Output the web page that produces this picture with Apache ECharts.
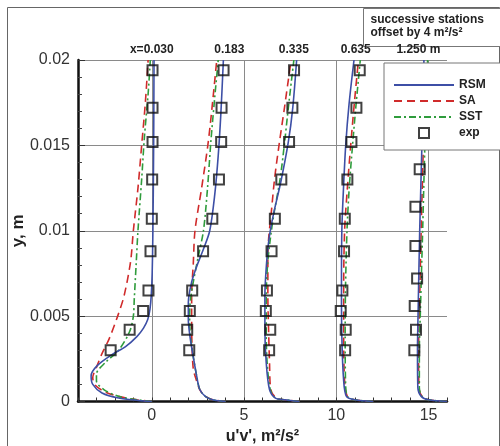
<!DOCTYPE html>
<html><head><meta charset="utf-8">
<script src="https://cdn.jsdelivr.net/npm/echarts@6/dist/echarts.min.js"></script>
<style>html,body{margin:0;padding:0;background:#fff}#c{width:500px;height:446px}</style>
</head><body><div id="c"></div>
<script>
// ---- data (values as plotted; successive stations offset by 4 m^2/s^2) ----
const stationLabels = ['x=0.030', '0.183', '0.335', '0.635', '1.250 m'];
const xTickValues = [0, 5, 10, 15];
const legendNames = ['RSM', 'SA', 'SST', 'exp'];

const rsm1 = [[0,0],[-0.72,0.00006],[-1.8,0.0002],[-2.7,0.0005],[-3.2,0.001],[-3.29,0.0015],[-2.96,0.0021],[-2.16,0.00275],[-1.44,0.0032],[-0.81,0.0038],[-0.45,0.0043],[-0.22,0.0048],[-0.1,0.0054],[-0.03,0.0062],[0.02,0.0075],[0.06,0.01],[0.1,0.015],[0.12,0.02]];
const sa1 = [[0,0],[-0.8,0.0001],[-1.8,0.0003],[-2.6,0.0006],[-3.1,0.001],[-3.2,0.0014],[-3.0,0.002],[-2.7,0.0028],[-2.3,0.0037],[-1.85,0.005],[-1.5,0.0062],[-1.15,0.0082],[-1.0,0.01],[-0.75,0.0125],[-0.55,0.015],[-0.35,0.0175],[-0.2,0.02]];
const sst1 = [[0,0],[-0.8,0.0001],[-1.8,0.0003],[-2.6,0.0007],[-3.0,0.0012],[-3.0,0.0016],[-2.5,0.0023],[-1.8,0.003],[-1.2,0.0041],[-1.0,0.005],[-0.95,0.006],[-0.85,0.008],[-0.75,0.01],[-0.55,0.013],[-0.4,0.0155],[-0.2,0.018],[-0.08,0.02]];
const exp1 = [[0.04,0.0194],[0.04,0.0172],[0.04,0.0152],[0.02,0.013],[0.0,0.0107],[-0.07,0.0088],[-0.18,0.0065],[-0.47,0.0053],[-1.2,0.0042],[-2.23,0.003]];

const rsm2 = [[4,0],[3.3,0.0001],[2.9,0.0003],[2.6,0.0007],[2.43,0.0015],[2.25,0.0026],[2.07,0.0038],[1.98,0.0048],[1.98,0.0058],[2.16,0.007],[2.43,0.0079],[2.79,0.0089],[3.14,0.01],[3.41,0.0121],[3.6,0.0144],[3.74,0.0168],[3.88,0.02]];
const sa2 = [[4,0],[3.3,0.0001],[2.9,0.0003],[2.6,0.0007],[2.4,0.0013],[2.25,0.0019],[2.18,0.0032],[2.16,0.0046],[2.16,0.0062],[2.25,0.0081],[2.34,0.01],[2.7,0.0125],[3.06,0.0152],[3.32,0.0178],[3.52,0.02]];
const sst2 = [[4,0],[3.3,0.0001],[2.9,0.0003],[2.6,0.0007],[2.43,0.0015],[2.25,0.0026],[2.1,0.0038],[2.05,0.0048],[2.08,0.0058],[2.25,0.007],[2.52,0.0085],[2.8,0.01],[3.02,0.0125],[3.2,0.0152],[3.41,0.0178],[3.6,0.02]];
const exp2 = [[3.89,0.0194],[3.78,0.0172],[3.76,0.0152],[3.64,0.013],[3.28,0.0107],[2.78,0.0088],[2.19,0.0065],[2.06,0.0053],[1.92,0.0042],[2.03,0.003]];

const rsm3 = [[8,0],[7.2,0.0001],[6.7,0.0002],[6.38,0.0007],[6.2,0.0023],[6.13,0.0042],[6.13,0.0062],[6.22,0.0081],[6.35,0.0095],[6.6,0.011],[7.0,0.0129],[7.4,0.0152],[7.64,0.0172],[7.85,0.02]];
const sa3 = [[8,0],[7.2,0.0001],[6.75,0.0002],[6.45,0.0007],[6.38,0.0023],[6.33,0.0042],[6.29,0.0062],[6.29,0.0081],[6.33,0.0095],[6.47,0.011],[6.65,0.013],[6.92,0.0152],[7.19,0.0172],[7.55,0.02]];
const sst3 = [[8,0],[7.2,0.0001],[6.7,0.0002],[6.42,0.0007],[6.25,0.0023],[6.2,0.0042],[6.2,0.0062],[6.28,0.0081],[6.42,0.0095],[6.62,0.011],[6.95,0.013],[7.2,0.0152],[7.4,0.0172],[7.7,0.02]];
const exp3 = [[7.71,0.0194],[7.62,0.0172],[7.44,0.0152],[7.02,0.013],[6.67,0.0107],[6.49,0.0088],[6.24,0.0065],[6.18,0.0053],[6.42,0.0042],[6.36,0.003]];

const rsm4 = [[12,0],[11.0,0.0001],[10.55,0.0003],[10.4,0.0012],[10.3,0.0038],[10.28,0.0067],[10.3,0.01],[10.39,0.0125],[10.51,0.015],[10.69,0.0174],[10.96,0.02]];
const sa4 = [[12,0],[11.0,0.0001],[10.6,0.0003],[10.45,0.0012],[10.4,0.0038],[10.4,0.0067],[10.45,0.01],[10.6,0.0125],[10.78,0.015],[10.98,0.0175],[11.2,0.02]];
const sst4 = [[12,0],[11.0,0.0001],[10.6,0.0003],[10.5,0.0012],[10.48,0.0038],[10.5,0.0067],[10.58,0.01],[10.7,0.0125],[10.88,0.015],[11.08,0.0175],[11.3,0.02]];
const exp4 = [[11.27,0.0194],[11.09,0.0172],[10.82,0.0152],[10.6,0.013],[10.46,0.0107],[10.42,0.0088],[10.33,0.0065],[10.24,0.0053],[10.51,0.0042],[10.48,0.003]];

const rsm5 = [[16,0],[15.0,0.0001],[14.6,0.0003],[14.42,0.0008],[14.4,0.003],[14.43,0.005],[14.52,0.01],[14.64,0.015],[14.75,0.02]];
const sa5 = [[16,0],[15.0,0.0001],[14.65,0.0003],[14.48,0.0008],[14.46,0.003],[14.5,0.005],[14.6,0.01],[14.72,0.015],[14.85,0.02]];
const sst5 = [[16,0],[15.0,0.0001],[14.65,0.0003],[14.5,0.0008],[14.5,0.003],[14.55,0.005],[14.68,0.01],[14.8,0.015],[14.95,0.02]];
const exp5 = [[14.52,0.0136],[14.29,0.0114],[14.29,0.0091],[14.38,0.0072],[14.25,0.0056],[14.32,0.0042],[14.23,0.003]];

// ---- styling / option building ----
const FONT = '"Liberation Sans", Arial, Helvetica, sans-serif';
const styles = {
  RSM: { color: '#3d4fa6', type: 'solid' },
  SA:  { color: '#d02b2b', type: [8, 5] },
  SST: { color: '#2f9c3c', type: [7, 3, 2, 3] }
};
const lineSets = {
  RSM: [rsm1, rsm2, rsm3, rsm4, rsm5],
  SA:  [sa1, sa2, sa3, sa4, sa5],
  SST: [sst1, sst2, sst3, sst4, sst5]
};
const expSets = [exp1, exp2, exp3, exp4, exp5];
const stationLabelPos = [0, 4.2, 7.7, 11.05, 14.45];

const series = [];
['SA', 'SST', 'RSM'].forEach(name => {
  lineSets[name].forEach(d => {
    series.push({
      name, type: 'line', data: d, showSymbol: false, symbol: 'none',
      smooth: 0.3, xAxisIndex: 0, yAxisIndex: 0,
      lineStyle: { color: styles[name].color, width: 1.6, type: styles[name].type },
      itemStyle: { color: styles[name].color },
      z: 3
    });
  });
});
expSets.forEach(d => {
  series.push({
    name: 'exp', type: 'scatter', data: d, symbol: 'rect', symbolSize: 10,
    itemStyle: { color: 'rgba(255,255,255,0)', borderColor: '#111', borderWidth: 2 },
    z: 5
  });
});

const xMinorTicks = [];
for (let v = -4; v <= 16; v++) xMinorTicks.push(v);

const legendData = legendNames.map(n => n === 'exp'
  ? { name: n, icon: 'path://M0,0L10,0L10,10L0,10Z',
      itemStyle: { color: 'rgba(255,255,255,0)', borderColor: '#111', borderWidth: 2 } }
  : { name: n, itemStyle: { opacity: 0 } });

const option = {
  animation: false,
  backgroundColor: '#fff',
  grid: { left: 78, top: 60, right: 53, bottom: 44.5, containLabel: false, outerBoundsMode: 'none' },
  xAxis: [{
    type: 'value', min: -4, max: 16, splitNumber: 5, position: 'bottom',
    name: "u'v', m\u00b2/s\u00b2", nameLocation: 'middle', nameGap: 27, nameMoveOverlap: false,
    nameTextStyle: { fontFamily: FONT, fontWeight: 'bold', fontSize: 16, color: '#222' },
    axisLine: { show: true, onZero: false, lineStyle: { color: '#111', width: 2.5 } },
    axisTick: { show: false },
    axisLabel: { customValues: xTickValues, fontFamily: FONT, fontSize: 16, color: '#333', margin: 6 },
    splitLine: { show: true, showMinLine: false, showMaxLine: false, lineStyle: { color: '#8a8a8a', width: 1 } }
  }, {
    type: 'value', min: -4, max: 16, position: 'top',
    axisLine: { show: false, onZero: false }, axisTick: { show: false }, splitLine: { show: false },
    axisLabel: {
      customValues: stationLabelPos, fontFamily: FONT, fontWeight: 'bold', fontSize: 12, color: '#222', margin: 4,
      formatter: v => stationLabels[stationLabelPos.indexOf(v)] || ''
    }
  }, {
    type: 'value', min: -4, max: 16, position: 'bottom',
    axisLine: { show: false, onZero: false }, splitLine: { show: false }, axisLabel: { show: false },
    axisTick: { show: true, inside: true, length: 4, customValues: xMinorTicks, lineStyle: { color: '#333', width: 1 } }
  }],
  yAxis: {
    type: 'value', min: 0, max: 0.02, interval: 0.005, position: 'left',
    name: 'y, m', nameLocation: 'middle', nameGap: 51, nameMoveOverlap: false,
    nameTextStyle: { fontFamily: FONT, fontWeight: 'bold', fontSize: 17, color: '#222' },
    axisLine: { show: true, onZero: false, lineStyle: { color: '#111', width: 2.5 } },
    axisTick: { show: true, inside: true, length: 7, lineStyle: { color: '#333' } },
    minorTick: { show: true, splitNumber: 5, length: 4, lineStyle: { color: '#444' } },
    axisLabel: { fontFamily: FONT, fontSize: 16, color: '#333', margin: 8 },
    splitLine: { show: true, lineStyle: { color: '#8a8a8a', width: 1 } }
  },
  legend: {
    data: legendData, orient: 'vertical', left: 384, top: 63,
    itemWidth: 60, itemHeight: 10, itemGap: 4, symbolKeepAspect: true,
    padding: [16, 40, 11, 9],
    backgroundColor: '#fff', borderColor: '#777', borderWidth: 1,
    textStyle: { fontFamily: FONT, fontWeight: 'bold', fontSize: 12, color: '#222' },
    selectedMode: false
  },
  graphic: [
    { type: 'rect', left: 5, top: 5, shape: { width: 492, height: 460 }, style: { fill: 'none', stroke: '#666', lineWidth: 1 }, silent: true, z: -1 },
    { type: 'group', left: 363, top: 8, z: 100, children: [
      { type: 'rect', shape: { x: 0, y: 0, width: 140, height: 38 }, style: { fill: '#fff', stroke: '#777', lineWidth: 1 } },
      { type: 'text', x: 7, y: 5, style: { text: 'successive stations\noffset by 4 m\u00b2/s\u00b2', font: 'bold 12px ' + FONT, fill: '#222', lineHeight: 13 } }
    ]}
  ],
  series
};

const chart = echarts.init(document.getElementById('c'), null, { renderer: 'canvas' });
chart.setOption(option);
</script>
</body></html>
